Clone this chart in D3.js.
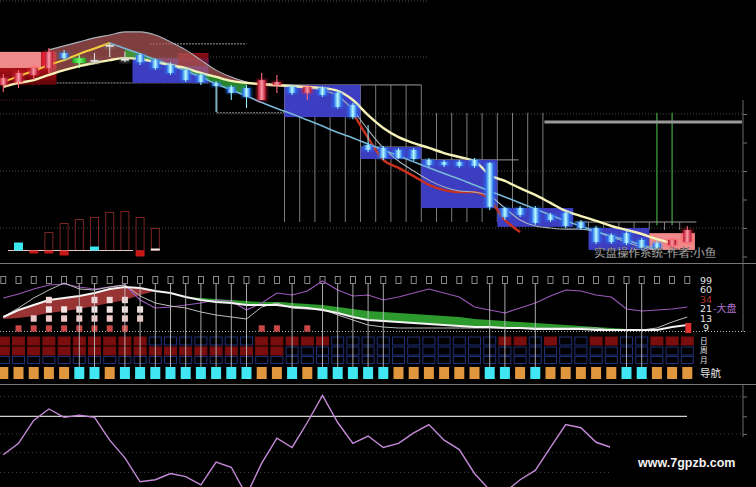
<!DOCTYPE html>
<html><head><meta charset="utf-8">
<script src="https://cdn.jsdelivr.net/npm/d3@7"></script>
<style>html,body{margin:0;padding:0;background:#000;overflow:hidden}svg{display:block}</style>
</head><body>
<svg id="c" width="756" height="487"></svg>
<script>
// ---------------- DATA ----------------
const N = 46;
const open  = [14.02,14.12,14.37,14.61,15.14,14.96,14.89,15.42,14.93,15.07,14.89,14.72,14.54,14.37,14.09,13.95,13.91,13.49,14.02,13.95,13.74,13.91,13.74,13.32,11.91,11.81,11.74,11.74,11.39,11.32,11.32,11.39,11.28,9.70,9.70,9.70,9.46,9.53,9.21,9.00,8.75,8.82,8.58,8.47,8.40,8.51];
const close = [14.26,14.44,14.61,15.18,14.96,14.79,14.86,15.38,14.89,14.82,14.61,14.44,14.19,14.12,13.98,13.74,13.60,14.19,14.12,13.74,13.95,13.67,13.25,12.89,11.74,11.46,11.46,11.42,11.21,11.21,11.18,11.18,9.74,9.39,9.46,9.18,9.28,9.07,9.00,8.51,8.51,8.47,8.30,8.30,8.58,8.93];
const high  = [14.40,14.54,14.72,15.32,15.25,15.07,15.14,15.49,15.18,15.14,14.96,14.82,14.61,14.44,14.16,14.02,14.02,14.44,14.37,14.02,14.02,13.98,13.81,13.39,12.61,11.88,11.81,11.81,11.46,11.39,11.39,11.46,11.32,9.74,9.77,9.77,9.53,9.60,9.28,9.07,8.82,8.89,8.65,8.54,8.65,9.07];
const low   = [13.77,13.91,14.19,14.44,14.89,14.61,14.79,15.00,14.82,14.72,14.54,14.37,14.12,14.02,13.07,13.49,13.21,13.49,13.74,13.67,13.49,13.60,13.18,12.82,11.67,11.39,11.42,11.35,11.14,11.14,11.11,11.11,9.63,9.28,9.39,9.11,9.21,9.00,8.93,8.44,8.44,8.40,8.23,8.23,8.33,8.47];
const greenBodies = [5];

const cream = [13.95,14.09,14.19,14.37,14.54,14.68,14.79,14.89,14.96,14.93,14.82,14.72,14.61,14.44,14.30,14.16,14.09,14.05,14.02,13.98,13.95,13.91,13.81,13.49,12.96,12.51,12.19,11.98,11.81,11.63,11.49,11.35,10.86,10.65,10.40,10.16,9.88,9.60,9.42,9.25,9.07,8.93,8.79,8.61,8.47,null];
const yellowUp = [14.12,14.33,14.51,14.72,14.89,15.11,15.30,15.49,null,null,null,null,null,null,null,null,null,null,null,null,null,null,null,null,null,null,null,null,null,null,null,null,null,null,null,null,null,null,null,null,null,null,null,null,null,null];
const blueTrend = [null,null,null,null,null,null,null,15.49,15.30,15.11,14.91,14.72,14.51,14.30,14.05,13.84,13.63,13.40,13.19,13.00,12.79,12.58,12.35,12.16,11.95,11.74,11.53,11.32,11.11,10.91,10.72,10.51,10.30,10.09,9.88,9.67,9.46,9.25,9.07,8.88,8.72,8.58,8.40,8.26,null,null];
const grayMA = [null,null,null,15.25,15.39,15.53,15.67,15.77,15.88,15.88,15.77,15.53,15.25,14.89,14.54,14.30,14.12,14.02,13.98,13.95,13.91,13.84,13.63,13.14,12.44,11.81,11.35,11.00,10.68,10.44,10.30,10.26,10.12,9.70,9.28,9.07,9.00,8.96,8.96,8.86,8.68,8.51,8.33,8.26,null,null];
const redMA = [null,null,null,null,null,null,null,null,null,null,null,null,null,null,null,null,null,null,null,null,null,null,null,13.04,12.16,11.39,11.11,10.82,10.51,10.33,10.26,10.26,9.98,9.28,8.86,null,null,null,null,null,null,null,null,null,null,null];

// boxes (column ranges and price ranges)
const boxStart = [0,0,3,9,12,19,24,28,33,39,43];
const boxEnd   = [2,3,3,13,13,23,27,32,37,42,45];
const boxTop   = [15.18,14.61,15.18,14.96,15.14,14.02,11.84,11.39,9.70,9.00,8.82];
const boxBot   = [14.61,14.02,14.61,14.09,14.68,12.89,11.42,9.70,9.04,8.23,8.23];
const boxKind  = ['salmon','darkred','red','blue','darkred','blue','blue','blue','blue','blue','salmon'];

// structure lines
const hlPrice = [15.46,14.09,13.04,13.49,14.02,11.84,11.39,9.21];
const hlFrom  = [9.65,3.5,14.06,-0.4,18.5,23.5,27.5,37.6];
const hlTo    = [16.0,13.6,18.5,6.0,27.5,27.5,33.9,45.6];
const hlDash  = ['2,1','2,1','2,1','1,2',null,null,null,null];
const vlColsA = [18,19,20,21,22,23,24,25,26,27];
const vlColsB = [28,29,30,31,32,33,34,35];
const vlColsC = [38,39,40,41,42,43,44];
const greenVCols = [43,44];
const gridPrices = [17,15,13,11,9];
const axisTicks = [13,12,11,10,9,8];

// histogram (lower left of main panel)
const histCols = [3,4,5,6,7,8,9,10];
const histVals = [18,27,31,33,38,39,33,22];
const barCols  = [1,2,3,4,6,9,10];
const barVals  = [8,-3,-3,-5,4,-6,2];
const barKind  = ['c','r','r','r','c','r','w'];

// middle indicator panel
const whiteLine = [15,22,27,32,34,36,39,43,45,44,41,39,35,32,30,29,27,27,27,25,24,22,19,15,12,11,10,9,8,7,6,5,5,4,4,3,3,3,3,2,2,2,2,2,5,7];
const redLow    = [13,14,16,19,21,23,26,29,32,37,41];
const greenTop  = [null,null,null,null,null,null,null,null,null,null,null,null,35,34,33,32,31,30,30,29,28,27,25,23,21,20,19,18,17,16,15,13,12,11,10,9,8,7,6,5,4,3,2,null,null,null];
const purpleLine= [34,38,43,47,48,45,43,45,47,32,24,25,27,29,32,31,22,29,39,37,41,51,42,36,37,32,35,39,43,39,35,25,22,19,24,29,36,42,41,37,35,23,21,22,23,25];
const grayLine  = [15,24,34,42,49,43,42,45,47,36,29,26,24,20,17,15,13,25,29,24,23,23,17,12,7,5,4,4,4,4,4,4,4,4,4,4,4,4,4,4,2,2,2,4,10,15];
const stackA = [1,2,3,4,5,6,7,8,17,18,20];
const stackB = [2,3,4,5,6,7,8,9];
const stackC = [3,4,5,6,7,8,9];
const stackD = [3,6,7,8];
const dayRow   = "1111111111000000011111000000000001101001100111";
const weekRow  = "1111111111111111111000000000000000000000000000";
const monthRow = "0000000000000000000000000000000000000000000000";
const navRow   = "OOOOOCCOCCCCCCCCCOOCOCCCCCOOOOOOCCOCOOOOOCCOOO";
const levelLabels = ["99","60","34","21","13","9"];
const rowLabels = ["日","周","月"];
const navLabel = "导航";

// bottom oscillator
const osc = [31,42,64,75,67,69,67,45,28,5,7,13,10,2,24,19,-8,23,47,38,62,88,62,42,49,38,42,52,60,45,36,13,-3,-5,7,16,38,60,57,43,38];
const oscRef = 68;
const oscGrid = [87,51,33,14];

// ---------------- DRAW ----------------
const W = 756, H = 487;
const svg = d3.select('#c');
svg.append('rect').attr('width', W).attr('height', H).attr('fill', '#000');
const defs = svg.append('defs');
function hgrad(id, edge, mid) {
  const g = defs.append('linearGradient').attr('id', id).attr('x1', '0').attr('x2', '1').attr('y1', '0').attr('y2', '0');
  g.append('stop').attr('offset', '0%').attr('stop-color', edge);
  g.append('stop').attr('offset', '50%').attr('stop-color', mid);
  g.append('stop').attr('offset', '100%').attr('stop-color', edge);
}
hgrad('gCyan', '#1d5ee8', '#b8ffff');
hgrad('gRed', '#b0102a', '#ff9aa8');
hgrad('gGreen', '#18a018', '#70ff70');
const vg = defs.append('linearGradient').attr('id', 'gDark').attr('x1', '0').attr('x2', '0').attr('y1', '0').attr('y2', '1');
vg.append('stop').attr('offset', '0%').attr('stop-color', '#b0101a');
vg.append('stop').attr('offset', '100%').attr('stop-color', '#5a0408');
defs.append('filter').attr('id', 'blur').append('feGaussianBlur').attr('stdDeviation', 1.4);

const x = d3.scaleLinear().domain([0, 45]).range([3.3, 687.3]);
const yP = d3.scaleLinear().domain([17, 8]).range([0, 256.5]);

defs.append('clipPath').attr('id', 'clipTop').append('rect').attr('x', 0).attr('y', 0).attr('width', W).attr('height', 263);
const topG = svg.append('g').attr('clip-path', 'url(#clipTop)');

// grid
topG.selectAll('.grid').data(gridPrices).enter().append('line')
  .attr('x1', 0).attr('x2', (d, i) => i < 2 ? 428 : 743)
  .attr('y1', d => Math.max(1, yP(d))).attr('y2', d => Math.max(1, yP(d)))
  .attr('stroke', '#4a4a4a').attr('stroke-dasharray', '1,2');

// vertical structure lines
topG.selectAll('.vla').data(vlColsA).enter().append('line')
  .attr('x1', d => x(d + 0.5)).attr('x2', d => x(d + 0.5))
  .attr('y1', yP(14.02)).attr('y2', yP(9.21)).attr('stroke', '#8a8a8a').attr('stroke-width', 0.9);
topG.selectAll('.vlb').data(vlColsB).enter().append('line')
  .attr('x1', d => x(d + 0.5)).attr('x2', d => x(d + 0.5))
  .attr('y1', yP(13.04)).attr('y2', yP(9.21)).attr('stroke', '#8a8a8a').attr('stroke-width', 0.9);
topG.selectAll('.vlc').data(vlColsC).enter().append('line')
  .attr('x1', d => x(d + 0.5)).attr('x2', d => x(d + 0.5))
  .attr('y1', yP(9.21)).attr('y2', yP(8.93)).attr('stroke', '#8a8a8a').attr('stroke-width', 0.9);
topG.selectAll('.vg').data(greenVCols).enter().append('line')
  .attr('x1', d => x(d)).attr('x2', d => x(d))
  .attr('y1', yP(13.04)).attr('y2', yP(9.1)).attr('stroke', '#3f9a3f').attr('stroke-width', 1.3);
topG.append('line').attr('x1', x(14.06)).attr('x2', x(14.06)).attr('y1', yP(14.09)).attr('y2', yP(13.04)).attr('stroke', '#8a8a8a');
topG.append('line').attr('x1', x(35.6)).attr('x2', 742).attr('y1', yP(12.72)).attr('y2', yP(12.72)).attr('stroke', '#9a9a9a').attr('stroke-width', 3);

// horizontal structure lines
topG.selectAll('.hl').data(hlPrice).enter().append('line')
  .attr('x1', (d, i) => x(hlFrom[i])).attr('x2', (d, i) => x(hlTo[i]))
  .attr('y1', d => yP(d)).attr('y2', d => yP(d))
  .attr('stroke', (d, i) => i === 3 ? '#5a3030' : '#9a9a9a').attr('stroke-width', 1)
  .attr('stroke-dasharray', (d, i) => hlDash[i]);

// boxes
const boxFill = {salmon: '#f08a8a', darkred: 'url(#gDark)', red: '#d81a2a', blue: '#3d3dc2'};
topG.selectAll('.box').data(boxStart).enter().append('rect')
  .attr('x', (d, i) => x(d - 0.5)).attr('width', (d, i) => x(boxEnd[i] + 0.5) - x(d - 0.5))
  .attr('y', (d, i) => yP(boxTop[i])).attr('height', (d, i) => yP(boxBot[i]) - yP(boxTop[i]))
  .attr('fill', (d, i) => boxFill[boxKind[i]]).attr('opacity', (d, i) => i === 4 ? 0.8 : 1);

// histogram
const hY = d3.scaleLinear().domain([0, 40]).range([250.5, 210.5]);
topG.selectAll('.hh').data(histCols).enter().append('rect')
  .attr('x', d => x(d) - 4).attr('width', 8)
  .attr('y', (d, i) => hY(histVals[i])).attr('height', (d, i) => hY(0) - hY(histVals[i]))
  .attr('fill', 'none').attr('stroke', '#7a2424').attr('stroke-width', 1);
topG.append('line').attr('x1', 8).attr('x2', 133).attr('y1', hY(0)).attr('y2', hY(0)).attr('stroke', '#e8c8c8').attr('stroke-width', 1);
const barColor = {c: '#3ce8f0', r: '#c81818', w: '#f0f0f0'};
topG.selectAll('.hb').data(barCols).enter().append('rect')
  .attr('x', d => x(d) - 4.5).attr('width', 9)
  .attr('y', (d, i) => Math.min(hY(barVals[i]), hY(0)))
  .attr('height', (d, i) => Math.abs(hY(barVals[i]) - hY(0)))
  .attr('fill', (d, i) => barColor[barKind[i]]);

// fills
const idx = d3.range(N);
const areaRed = d3.area().defined(i => i >= 3 && i <= 16)
  .x(i => x(i)).y0(i => yP(cream[i])).y1(i => yP(grayMA[i])).curve(d3.curveMonotoneX);
topG.append('path').attr('d', areaRed(idx)).attr('fill', '#b05858').attr('opacity', 0.72);
const areaGreen = d3.area().defined(i => i >= 8 && i <= 16)
  .x(i => x(i)).y0(i => yP(cream[i])).y1(i => yP(blueTrend[i])).curve(d3.curveMonotoneX);
topG.append('path').attr('d', areaGreen(idx)).attr('fill', '#34a634').attr('opacity', 0.8);

// lines
function priceLine(arr, color, w) {
  const ln = d3.line().defined(i => arr[i] != null).x(i => x(i)).y(i => yP(arr[i])).curve(d3.curveMonotoneX);
  topG.append('path').attr('d', ln(idx)).attr('fill', 'none').attr('stroke', color).attr('stroke-width', w);
}
priceLine(redMA, '#c8301e', 2.4);
priceLine(grayMA, '#a9b4bc', 1.1);
priceLine(blueTrend, '#7ab8d8', 1.6);
priceLine(yellowUp, '#f2d040', 2);
priceLine(cream, '#f6f2b8', 2.4);

// candles
function kind(i) {
  if (greenBodies.includes(i)) return 'g';
  if (Math.abs(close[i] - open[i]) < 0.05) return 'd';
  return close[i] > open[i] ? 'u' : 'n';
}
const wickColor = {u: '#ff6a7a', n: '#90ecff', d: '#d8d8d8', g: '#b0ffb0'};
const bodyFill = {u: 'url(#gRed)', n: 'url(#gCyan)', d: '#e8e8e8', g: 'url(#gGreen)'};
const glowColor = {u: '#ff3040', n: '#2090ff', d: '#888', g: '#30d030'};
const cg = topG.append('g');
cg.selectAll('.glow').data(idx).enter().append('rect')
  .attr('x', i => x(i) - 5.5).attr('width', 11)
  .attr('y', i => yP(Math.max(open[i], close[i])) - 1)
  .attr('height', i => Math.max(3, yP(Math.min(open[i], close[i])) - yP(Math.max(open[i], close[i]))) + 2)
  .attr('fill', i => glowColor[kind(i)]).attr('opacity', 0.45).attr('filter', 'url(#blur)');
cg.selectAll('.wick').data(idx).enter().append('line')
  .attr('x1', i => x(i)).attr('x2', i => x(i))
  .attr('y1', i => yP(high[i])).attr('y2', i => yP(low[i]))
  .attr('stroke', i => wickColor[kind(i)]).attr('stroke-width', 1.1);
cg.selectAll('.body').data(idx).enter().append('rect')
  .attr('x', i => x(i) - (kind(i) === 'g' ? 7 : 4)).attr('width', i => kind(i) === 'g' ? 14 : 8)
  .attr('y', i => yP(Math.max(open[i], close[i])))
  .attr('height', i => Math.max(1.6, yP(Math.min(open[i], close[i])) - yP(Math.max(open[i], close[i]))))
  .attr('fill', i => bodyFill[kind(i)]);

// right axis
const ax = svg.append('g').attr('transform', 'translate(743,0)')
  .call(d3.axisRight(yP).tickValues(axisTicks).tickSize(4).tickFormat(''));
ax.select('.domain').remove();
ax.selectAll('line').attr('stroke', '#777');
svg.append('line').attr('x1', 743).attr('x2', 743).attr('y1', 100).attr('y2', 332).attr('stroke', '#6a6a6a');

svg.append('text').attr('x', 594).attr('y', 256.5).text('实盘操作系统-作者:小鱼')
  .attr('font-family', '"Noto Sans CJK SC", sans-serif').attr('font-size', 11.5)
  .attr('fill', '#dcdcdc').attr('stroke', '#333').attr('stroke-width', 0.3);

// separators
svg.append('line').attr('x1', 0).attr('x2', W).attr('y1', 263.5).attr('y2', 263.5).attr('stroke', '#777');
svg.append('line').attr('x1', 0).attr('x2', W).attr('y1', 384.5).attr('y2', 384.5).attr('stroke', '#777');

// ---------------- middle panel ----------------
const mY = d3.scaleLinear().domain([0, 56]).range([332, 276]);
const mid = svg.append('g');
mid.selectAll('.tofu').data(idx).enter().append('rect')
  .attr('x', i => x(i) - 2.5).attr('y', 276.5).attr('width', 5).attr('height', 7)
  .attr('fill', 'none').attr('stroke', '#a8a8a8').attr('stroke-width', 0.8);

const redIdx = d3.range(redLow.length);
mid.append('path').attr('d', d3.area().x(i => x(i)).y0(i => mY(redLow[i])).y1(i => mY(whiteLine[i])).curve(d3.curveMonotoneX)(redIdx))
  .attr('fill', '#a83a3a').attr('opacity', 0.9);
mid.append('path').attr('d', d3.area().defined(i => greenTop[i] != null).x(i => x(i)).y0(i => mY(whiteLine[i])).y1(i => mY(greenTop[i])).curve(d3.curveMonotoneX)(idx))
  .attr('fill', '#2c9a2c');
function midLine(arr, color, w) {
  mid.append('path').attr('d', d3.line().x(i => x(i)).y(i => mY(arr[i]))(idx))
    .attr('fill', 'none').attr('stroke', color).attr('stroke-width', w);
}
midLine(purpleLine, '#9a58b8', 1.2);
midLine(grayLine, '#bdbdbd', 1);
midLine(whiteLine, '#f4f4f4', 2);

mid.append('line').attr('x1', 0).attr('x2', 745).attr('y1', 331.5).attr('y2', 331.5)
  .attr('stroke', '#bbbbbb').attr('stroke-dasharray', '1,2');

// stacked squares
const stackLevels = [[stackA, 328.5, '#c84848'], [stackB, 318.5, '#efcaca'], [stackC, 309.5, '#f2e2e2'], [stackD, 300, '#f0d8d8']];
stackLevels.forEach(([cols, cy, col]) => {
  mid.selectAll(null).data(cols).enter().append('rect')
    .attr('x', d => x(d) - 3).attr('y', cy - 3.2).attr('width', 6).attr('height', 6.4).attr('fill', col);
});
mid.append('rect').attr('x', x(45) - 2).attr('y', 323).attr('width', 6).attr('height', 10).attr('fill', '#e03030');

// rows
const rowDefs = [[dayRow, 337, 8], [weekRow, 347, 8], [monthRow, 356.5, 7]];
rowDefs.forEach(([s, yy, hh]) => {
  mid.selectAll(null).data(idx).enter().append('rect')
    .attr('x', i => x(i) - 6).attr('y', yy).attr('width', 12).attr('height', hh)
    .attr('fill', i => s[i] === '1' ? '#7a0e0e' : 'none')
    .attr('stroke', i => s[i] === '1' ? '#7a0e0e' : '#213077').attr('stroke-width', 1);
});
const cyanCols = idx.filter(i => navRow[i] === 'C');
mid.selectAll('.navv').data(cyanCols).enter().append('line')
  .attr('x1', i => x(i)).attr('x2', i => x(i)).attr('y1', 284).attr('y2', 367)
  .attr('stroke', '#c6c6c6').attr('stroke-width', 1).attr('opacity', 0.85);
mid.selectAll('.nav').data(idx).enter().append('rect')
  .attr('x', i => x(i) - 5).attr('y', 367).attr('width', 10).attr('height', 12)
  .attr('fill', i => navRow[i] === 'C' ? '#40e6f2' : '#df963c');

// labels
const lY = d3.scalePoint().domain(levelLabels).range([283.5, 331]);
const lblColor = {'34': '#b03030'};
mid.selectAll('.lvl').data(levelLabels).enter().append('text')
  .attr('x', d => d.length === 1 ? 703 : 700).attr('y', d => lY(d))
  .text(d => d).attr('font-family', '"DejaVu Sans", sans-serif').attr('font-size', 9.5)
  .attr('fill', d => lblColor[d] || '#e4e4e4');
mid.append('text').attr('x', 713).attr('y', lY('21')).text('-大盘')
  .attr('font-family', '"Noto Sans CJK SC", sans-serif').attr('font-size', 10).attr('fill', '#b070d0');
const rY = d3.scalePoint().domain(rowLabels).range([343.8, 362.8]);
mid.selectAll('.rl').data(rowLabels).enter().append('text')
  .attr('x', 700).attr('y', d => rY(d))
  .text(d => d).attr('font-family', '"Noto Sans CJK SC", sans-serif').attr('font-size', 7.6)
  .attr('fill', '#e4e4e4');
mid.append('text').attr('x', 700).attr('y', 376.5).text(navLabel)
  .attr('font-family', '"Noto Sans CJK SC", sans-serif').attr('font-size', 10.5).attr('fill', '#e4e4e4');

// ---------------- bottom panel ----------------
const bY = d3.scaleLinear().domain([0, 100]).range([487, 383]);
defs.append('clipPath').attr('id', 'clipBot').append('rect').attr('x', 0).attr('y', 385).attr('width', W).attr('height', 102);
const bot = svg.append('g').attr('clip-path', 'url(#clipBot)');
bot.selectAll('.bg').data(oscGrid).enter().append('line')
  .attr('x1', 0).attr('x2', 743).attr('y1', d => bY(d)).attr('y2', d => bY(d))
  .attr('stroke', '#444').attr('stroke-dasharray', '1,3');
bot.append('line').attr('x1', 0).attr('x2', 687).attr('y1', bY(oscRef)).attr('y2', bY(oscRef))
  .attr('stroke', '#cfcfcf').attr('stroke-width', 1.3);
bot.append('path').attr('d', d3.line().x((d, i) => x(i)).y(d => bY(d))(osc))
  .attr('fill', 'none').attr('stroke', '#c48ad8').attr('stroke-width', 1.4);
const bax = svg.append('g').attr('transform', 'translate(743,0)')
  .call(d3.axisRight(bY).tickValues([87, oscRef, 51]).tickSize(4).tickFormat(''));
bax.select('.domain').remove();
bax.selectAll('line').attr('stroke', '#777');
svg.append('line').attr('x1', 743).attr('x2', 743).attr('y1', 385).attr('y2', 437).attr('stroke', '#6a6a6a');

// watermark
svg.append('rect').attr('x', 610).attr('y', 437).attr('width', 146).attr('height', 50).attr('fill', '#000');
svg.append('text').attr('x', 638).attr('y', 467).text('www.7gpzb.com')
  .attr('font-family', '"Liberation Sans", Arial, sans-serif').attr('font-weight', 'bold')
  .attr('font-size', 12.5).attr('fill', '#f2f2f2');
</script>
</body></html>
